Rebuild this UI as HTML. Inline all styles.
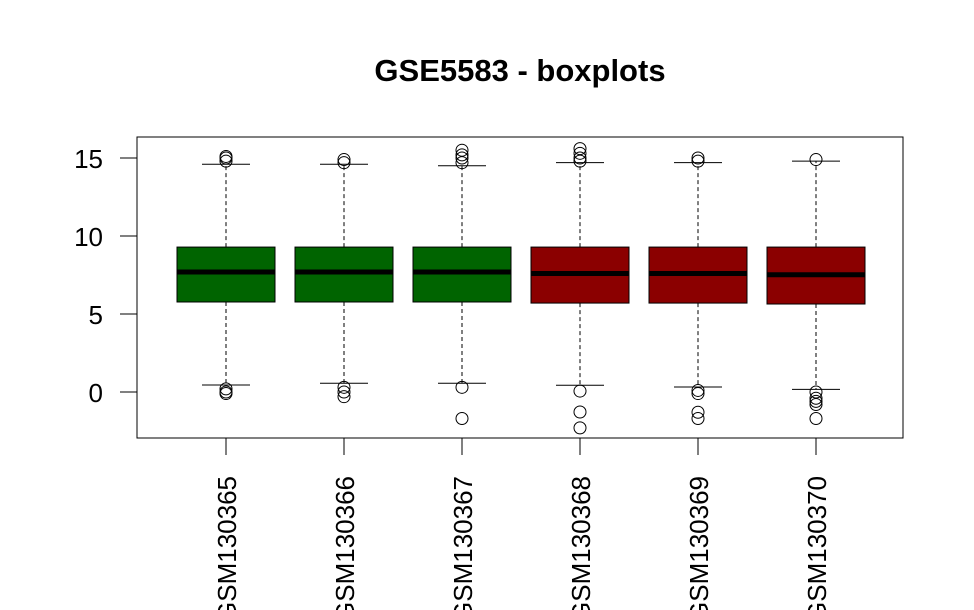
<!DOCTYPE html>
<html><head><meta charset="utf-8"><style>
html,body{margin:0;padding:0;background:#fff;overflow:hidden;}
svg{display:block;font-family:"Liberation Sans",Arial,sans-serif;}
</style></head><body>
<svg id="chart" width="974" height="610" viewBox="0 0 974 610">
<text x="520" y="81" font-size="31" font-weight="bold" text-anchor="middle">GSE5583 - boxplots</text>
<rect x="137" y="137" width="766" height="301" fill="none" stroke="#000" stroke-width="1"/>
<g id="yaxis"></g>
<g id="boxes"></g>
<g id="xlabels"></g>
</svg>
<script>
const categories = ["GSM130365","GSM130366","GSM130367","GSM130368","GSM130369","GSM130370"];
const colors = ["#006400","#006400","#006400","#8B0000","#8B0000","#8B0000"];
const q1 = [5.77,5.77,5.77,5.7,5.7,5.64];
const medians = [7.69,7.69,7.69,7.6,7.6,7.52];
const q3 = [9.29,9.29,9.29,9.29,9.29,9.29];
const whiskLow = [0.45,0.56,0.56,0.43,0.32,0.17];
const whiskHigh = [14.6,14.6,14.5,14.7,14.7,14.8];
const outliers = [
 [14.8,15.0,15.1,0.2,0.0,-0.1],
 [14.7,14.9,0.3,0.0,-0.3],
 [14.7,15.0,15.2,15.5,0.3,-1.7],
 [14.8,15.0,15.3,15.6,0.06,-1.28,-2.3],
 [14.8,15.0,0.1,-0.1,-1.3,-1.7],
 [14.9,0.0,-0.4,-0.6,-0.8,-1.7]
];
const yTicks = [0,5,10,15];

const NS="http://www.w3.org/2000/svg";
function y(v){return 392 - v*15.6;}
function x(i){return 226 + i*118;}
function mk(tag,attrs,parent){const e=document.createElementNS(NS,tag);for(const k in attrs)e.setAttribute(k,attrs[k]);parent.appendChild(e);return e;}
const ya=document.getElementById('yaxis');
mk('line',{x1:137,x2:137,y1:y(0),y2:y(15),stroke:'#000'},ya);
yTicks.forEach(t=>{
 const l=mk('line',{x1:120,x2:137,y1:y(t),y2:y(t),stroke:'#000'},ya);
 
 
 const tx=mk('text',{x:103,y:y(t)+10,'font-size':26,'text-anchor':'end'},ya);
 tx.textContent=t;
 
 
});
const bx=document.getElementById('boxes');
const xl=document.getElementById('xlabels');
categories.forEach((c,i)=>{
 const cx=x(i), hw=49;
 const g=mk('g',{},bx);
 
 
 mk('line',{x1:cx,x2:cx,y1:y(q3[i]),y2:y(whiskHigh[i]),stroke:'#000','stroke-dasharray':'4,3'},g);
 mk('line',{x1:cx,x2:cx,y1:y(q1[i]),y2:y(whiskLow[i]),stroke:'#000','stroke-dasharray':'4,3'},g);
 mk('line',{x1:cx-24,x2:cx+24,y1:y(whiskHigh[i]),y2:y(whiskHigh[i]),stroke:'#000'},g);
 mk('line',{x1:cx-24,x2:cx+24,y1:y(whiskLow[i]),y2:y(whiskLow[i]),stroke:'#000'},g);
 mk('rect',{x:cx-hw,y:y(q3[i]),width:hw*2,height:y(q1[i])-y(q3[i]),fill:colors[i],stroke:'#000'},g);
 mk('line',{x1:cx-hw,x2:cx+hw,y1:y(medians[i]),y2:y(medians[i]),stroke:'#000','stroke-width':5},g);
 outliers[i].forEach(v=>{
  const o=mk('circle',{cx:cx,cy:y(v),r:6,fill:'none',stroke:'#000'},g);
  
  
 });
 mk('line',{x1:cx,x2:cx,y1:438,y2:455,stroke:'#000'},xl);
 const t=mk('text',{x:0,y:0,'font-size':26,'text-anchor':'end',transform:'translate('+(cx+10)+',476) rotate(-90)'},xl);
 t.textContent=c;
 
 
});
</script>
</body></html>
